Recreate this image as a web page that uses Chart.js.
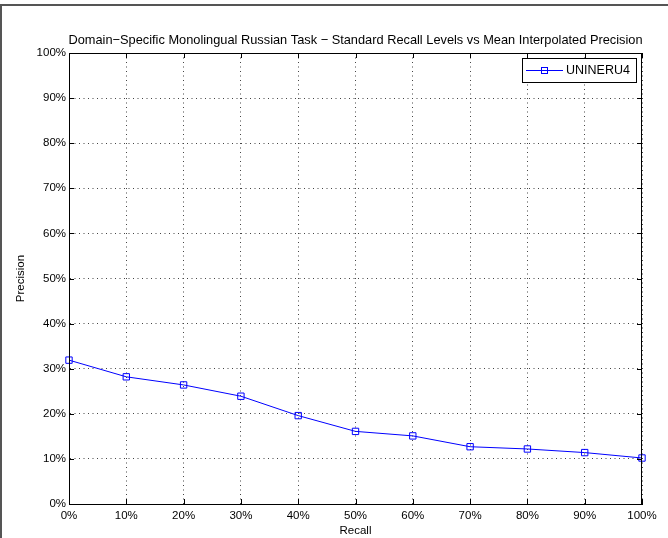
<!DOCTYPE html>
<html>
<head>
<meta charset="utf-8">
<script src="https://cdn.jsdelivr.net/npm/chart.js@4"></script>
<style>
  body { margin: 0; background: #fff; }
  #wrap { width: 668px; height: 538px; }
</style>
</head>
<body>
<div id="wrap"><canvas id="precisionChart" width="668" height="538"></canvas></div>
<script>
// recall levels (x) and mean interpolated precision (y), both in %
const recallLevels = [0, 10, 20, 30, 40, 50, 60, 70, 80, 90, 100];
const precision = [31.9, 28.2, 26.4, 23.9, 19.6, 16.1, 15.1, 12.7, 12.2, 11.4, 10.2];
const seriesName = 'UNINERU4';
const tickValues = [0, 10, 20, 30, 40, 50, 60, 70, 80, 90, 100];
const chartTitle = 'Domain\u2212Specific Monolingual Russian Task \u2212 Standard Recall Levels vs Mean Interpolated Precision';

const FONT = 'Liberation Sans, Arial, Helvetica, sans-serif';
const blue = '#0000ff';

// title over the plot box, box round the plot, inward ticks, figure frame, legend
const matlabAxes = {
    id: 'matlabAxes',
    afterDatasetsDraw(chart) {
        const { ctx, chartArea: a, scales } = chart;
        ctx.save();

        ctx.fillStyle = '#000';
        ctx.font = '12.8px ' + FONT;
        ctx.textAlign = 'center';
        ctx.textBaseline = 'middle';
        ctx.fillText(chartTitle, (a.left + a.right) / 2, 40);

        ctx.strokeStyle = '#000';
        ctx.lineWidth = 1;
        ctx.strokeRect(a.left + 0.5, a.top + 0.5, a.right - a.left - 1, a.bottom - a.top);
        // tick marks inside the box
        ctx.beginPath();
        tickValues.forEach(v => {
            const x = Math.round(scales.x.getPixelForValue(v)) + 0.5;
            ctx.moveTo(x, a.bottom); ctx.lineTo(x, a.bottom - 5);
            ctx.moveTo(x, a.top); ctx.lineTo(x, a.top + 5);
            const y = Math.round(scales.y.getPixelForValue(v)) + 0.5;
            ctx.moveTo(a.left, y); ctx.lineTo(a.left + 5, y);
            ctx.moveTo(a.right, y); ctx.lineTo(a.right - 5, y);
        });
        ctx.stroke();

        // figure frame (top + left only visible)
        ctx.strokeStyle = '#555';
        ctx.lineWidth = 2;
        ctx.beginPath();
        ctx.moveTo(1, chart.height); ctx.lineTo(1, 5); ctx.lineTo(chart.width, 5);
        ctx.stroke();

        // legend
        const lx = 522, ly = 58, lw = 114, lh = 24;
        ctx.fillStyle = '#fff';
        ctx.fillRect(lx, ly, lw, lh);
        ctx.strokeStyle = '#000';
        ctx.lineWidth = 1;
        ctx.strokeRect(lx + 0.5, ly + 0.5, lw, lh);
        const my = ly + lh / 2 + 0.5;
        ctx.strokeStyle = blue;
        ctx.beginPath();
        ctx.moveTo(lx + 4, my); ctx.lineTo(lx + 41, my);
        ctx.stroke();
        ctx.strokeRect(lx + 19.5, my - 3, 6, 6);
        ctx.fillStyle = '#000';
        ctx.font = '12.5px ' + FONT;
        ctx.textBaseline = 'middle';
        ctx.textAlign = 'left';
        ctx.fillText(chart.data.datasets[0].label, lx + 44, my + 0.5);
        ctx.restore();
    }
};

const ctx = document.getElementById('precisionChart').getContext('2d');

const data = {
    datasets: [{
        label: seriesName,
        data: recallLevels.map((r, i) => ({ x: r, y: precision[i] })),
        borderColor: blue,
        backgroundColor: 'rgba(0,0,0,0)',
        borderWidth: 1,
        pointStyle: 'rect',
        pointRadius: 4.5,
        pointBorderWidth: 1,
        pointBorderColor: blue,
        pointBackgroundColor: 'rgba(0,0,0,0)',
        tension: 0,
        clip: false
    }]
};

const gridOpts = {
    color: '#444',
    lineWidth: 1,
    drawTicks: false
};

const config = {
    type: 'line',
    data: data,
    options: {
        responsive: false,
        animation: false,
        layout: { padding: { left: 0, right: 26, top: 53, bottom: 0 } },
        plugins: {
            legend: { display: false },
            tooltip: { enabled: false },
            title: { display: false }
        },
        scales: {
            x: {
                type: 'linear',
                min: 0,
                max: 100,
                afterBuildTicks: s => { s.ticks = tickValues.map(v => ({ value: v })); },
                afterFit: s => { s.height = 34; },
                grid: gridOpts,
                border: { display: true, color: '#000', width: 1, dash: [1, 3.5] },
                ticks: {
                    color: '#000',
                    font: { family: FONT, size: 11.5 },
                    padding: 5,
                    maxRotation: 0,
                    callback: v => v + '%'
                },
                title: {
                    display: true,
                    text: 'Recall',
                    color: '#000',
                    font: { family: FONT, size: 11.5 },
                    padding: { top: -1, bottom: 0 }
                }
            },
            y: {
                type: 'linear',
                min: 0,
                max: 100,
                afterBuildTicks: s => { s.ticks = tickValues.map(v => ({ value: v })); },
                afterFit: s => { s.width = 69; },
                grid: gridOpts,
                border: { display: true, color: '#000', width: 1, dash: [1, 3.5] },
                ticks: {
                    color: '#000',
                    font: { family: FONT, size: 11.5 },
                    padding: 3,
                    callback: v => v + '%'
                },
                title: {
                    display: true,
                    text: 'Precision',
                    color: '#000',
                    font: { family: FONT, size: 11.5 },
                    padding: { top: 14, bottom: 0 }
                }
            }
        }
    },
    plugins: [matlabAxes]
};

const precisionChart = new Chart(ctx, config);
</script>
</body>
</html>
